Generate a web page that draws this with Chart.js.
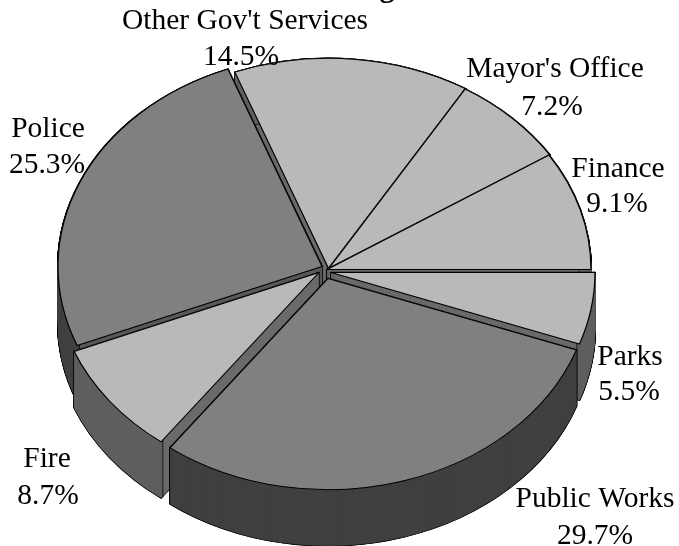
<!DOCTYPE html>
<html lang="en">
<head>
  <meta charset="UTF-8">
  <title>Spending</title>
  <script src="https://cdn.jsdelivr.net/npm/chart.js"></script>
  <style>
    html, body { margin: 0; padding: 0; background: #fff; overflow: hidden; }
    canvas { display: block; }
  </style>
</head>
<body>
  <canvas id="pie" width="679" height="546"></canvas>

  <script>
    const departments = ['Parks', 'Public Works', 'Fire', 'Police', "Other Gov't Services", "Mayor's Office", 'Finance'];
    const shares = [5.5, 29.7, 8.7, 25.3, 14.5, 7.2, 9.1];

    // pulled-out slices: px shift on screen, per slice
    const shiftX = [4, 1, -8, -5, 2, 1, 0];
    const shiftY = [3, 9, 3, -3, 0, 0, 0];

    const topColors = ['#b9b9b9', '#808080', '#b9b9b9', '#808080', '#b9b9b9', '#b9b9b9', '#b9b9b9'];
    const rimColors = ['#5f5f5f', '#404040', '#5f5f5f', '#404040', '#5f5f5f', '#5f5f5f', '#5f5f5f'];
    const sideColors = ['#6a6a6a', '#595959', '#6a6a6a', '#595959', '#6a6a6a', '#6a6a6a', '#6a6a6a'];

    // back slices first so the front ones cover them
    const paintOrder = [4, 5, 6, 3, 0, 2, 1];

    // text anchors: centre x, first baseline y
    const labelX = [630, 595, 47, 48, 245, 555, 618];
    const labelY = [365, 507, 467, 137, 29, 77, 177];
    const lineGap = [35, 37, 37, 36, 36, 38, 35];
    const pctX = [629, 595, 48, 47, 241, 552, 617];

    const squash = 0.8;
    const depth = 56;

    function paintArc(ctx, arc, i, lift, fill, border, width, inner) {
      const ghost = Object.create(arc);
      ghost.options = Object.assign({}, arc.options, {
        backgroundColor: fill,
        borderColor: border,
        borderWidth: width,
        borderJoinStyle: 'round'
      });
      if (inner !== undefined) ghost.innerRadius = inner;
      ctx.save();
      ctx.translate(arc.x + shiftX[i], arc.y + shiftY[i] + lift);
      ctx.scale(1, squash);
      ctx.translate(-arc.x, -arc.y);
      ghost.draw(ctx);
      ctx.restore();
    }

    function extrude(ctx, arc, i, fill, inner) {
      // black pass wider than the colour pass, leaves a thin outline
      for (let d = depth; d >= 0; d--) paintArc(ctx, arc, i, d, '#000', '#000', 2, inner);
      for (let d = depth; d >= 0; d--) paintArc(ctx, arc, i, d, fill, fill, 0.8, inner);
    }

    const tiltedPie = {
      id: 'tiltedPie',
      beforeDatasetsDraw(chart) {
        const ctx = chart.ctx;
        const arcs = chart.getDatasetMeta(0).data;
        paintOrder.forEach(i => {
          const arc = arcs[i];
          extrude(ctx, arc, i, sideColors[i]);
          extrude(ctx, arc, i, rimColors[i], arc.outerRadius - 2);
          paintArc(ctx, arc, i, 0, topColors[i], '#000', 1.2);
        });
        return false;
      },
      afterDraw(chart) {
        const ctx = chart.ctx;
        ctx.save();
        ctx.fillStyle = '#000';
        ctx.textAlign = 'center';
        ctx.textBaseline = 'alphabetic';
        ctx.font = '29.5px "Liberation Serif"';
        departments.forEach((name, i) => {
          ctx.fillText(name, labelX[i], labelY[i]);
          ctx.fillText(shares[i].toFixed(1) + '%', pctX[i], labelY[i] + lineGap[i]);
        });
        // the heading runs off the top edge, only the tail of its last letter shows
        ctx.font = 'bold 30px "Liberation Serif"';
        ctx.fillText('g', 387, -3);
        ctx.restore();
      }
    };

    new Chart(document.getElementById('pie'), {
      type: 'pie',
      data: {
        labels: departments,
        datasets: [{ data: shares, backgroundColor: topColors, borderColor: '#000', borderWidth: 1 }]
      },
      options: {
        responsive: false,
        animation: false,
        rotation: 90,
        layout: { padding: { top: 5, bottom: 12, left: 0, right: 25 } },
        plugins: { legend: { display: false }, tooltip: { enabled: false } }
      },
      plugins: [tiltedPie]
    });
  </script>
</body>
</html>
